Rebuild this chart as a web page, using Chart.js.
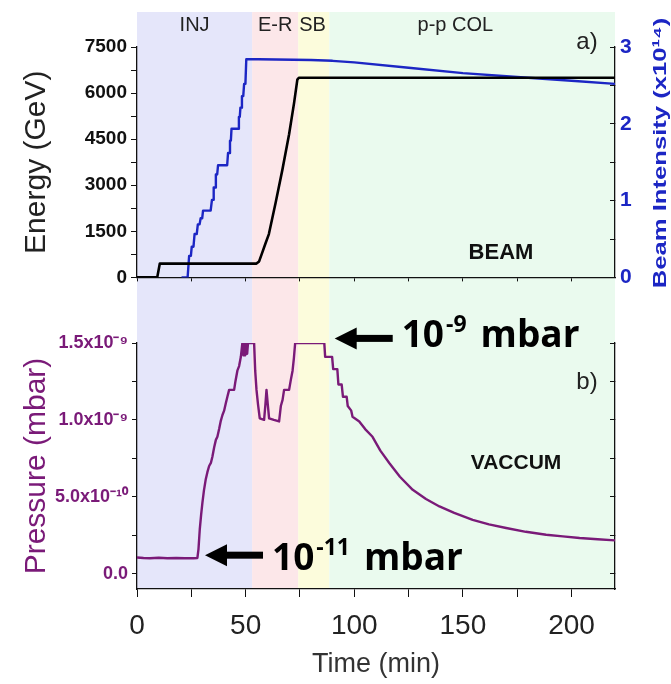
<!DOCTYPE html>
<html>
<head>
<meta charset="utf-8">
<title>Beam and vacuum during a fill</title>
<script src="https://cdn.jsdelivr.net/npm/chart.js@4.4.1/dist/chart.umd.min.js"></script>
<style>
  html, body { margin: 0; background: #fff; }
  #wrap { position: relative; width: 671px; height: 684px; overflow: hidden; }
  #wrap canvas { position: absolute; left: 0; }
  #beamChart { top: 0; }
  #vacChart { top: 300px; }
</style>
</head>
<body>
<div id="wrap">
  <canvas id="beamChart" width="671" height="300"></canvas>
  <canvas id="vacChart" width="671" height="384"></canvas>
</div>
<script>
// ---- values ----
const phaseNames = ['INJ', 'E-R', 'SB', 'p-p COL'];
const phaseStart = [0, 53, 74.2, 88.5];      // min
const phaseEnd = [53, 74.2, 88.5, 220];

// beam energy (GeV)
const energyTime = [0, 9.3, 10.5, 55, 56.2, 57.6, 59.0, 60.7, 63.8, 66.9, 70.0, 72.3, 73.8, 74.5, 220];
const energyGeV = [0, 0, 450, 450, 520, 800, 1080, 1410, 2430, 3500, 4660, 5680, 6440, 6500, 6500];

// beam intensity (x1e14 protons)
const beamTime = [20.5, 23.3, 24.0, 24.8, 25.2, 26.0, 26.5, 27.5, 28.0, 28.8, 29.3, 30.0, 30.4, 33.9,
  34.5, 35.0, 35.3, 35.9, 36.3, 36.9, 37.3, 41.5, 41.9, 42.4, 42.8, 43.2, 43.5, 46.5, 46.9, 47.3,
  47.6, 48.0, 48.3, 48.9, 49.3, 49.9, 50.3, 56, 80, 90, 100, 125, 150, 180, 200, 220];
const beamIntensity = [0, 0, 0.28, 0.28, 0.40, 0.40, 0.565, 0.565, 0.69, 0.69, 0.77, 0.77, 0.87, 0.87,
  1.01, 1.01, 1.17, 1.17, 1.34, 1.34, 1.46, 1.46, 1.62, 1.62, 1.78, 1.78, 1.935, 1.935, 2.09, 2.09,
  2.21, 2.21, 2.36, 2.36, 2.52, 2.52, 2.84, 2.84, 2.83, 2.82, 2.80, 2.73, 2.66, 2.60, 2.56, 2.52];

// pressure (x1e-10 mbar)
const pressureTime = [0, 3, 6, 10, 14, 18, 22, 26, 27.8, 28.3, 28.9, 29.5, 30.1, 30.8, 31.6, 32.4, 33.2,
  34.0, 34.7, 35.5, 36.3, 37.0, 37.8, 38.5, 39.3, 40.1, 40.9, 41.6, 42.4, 44.7, 45.3, 46.2, 47.0, 47.8,
  48.5, 49.0, 49.4, 49.8, 50.3, 50.7, 51.1, 53.9, 54.4, 55.0, 55.7, 56.5, 58.5, 59.1, 59.6, 60.2, 60.8,
  63.0, 65.4, 66.2, 67.0, 67.7, 70.0, 70.8, 71.6, 72.2, 72.8, 86.2, 86.6, 89.8, 90.3, 92.2, 92.7, 94.2,
  94.8, 96.5, 97.0, 98.6, 99.2, 102.3, 105, 108.4, 112, 116.1, 121, 126.9, 133, 139.2, 146, 154.5,
  162, 169.9, 179, 188.3, 196, 203.7, 212, 220];
const pressureE10 = [1.05, 1.02, 1.0, 1.03, 1.0, 1.02, 1.0, 1.0, 1.02, 1.6, 2.9, 3.8, 4.6, 5.4, 6.1, 6.6, 7.0,
  7.2, 7.6, 8.2, 8.7, 8.9, 9.4, 9.9, 10.3, 10.6, 11.1, 11.5, 11.95, 11.95, 12.5, 13.2, 13.5, 14.1,
  15, 14.2, 15, 14.2, 15, 14.3, 15, 15, 13.2, 11.95, 11.0, 10.1, 10.0, 11.0, 11.95, 11.0, 10.1,
  10.0, 9.9, 10.9, 11.3, 11.95, 11.95, 12.6, 13.2, 14.0, 15, 15, 14.1, 14.1, 13.3, 13.3, 12.3, 12.3,
  11.5, 11.5, 10.9, 10.6, 10.2, 9.9, 9.4, 8.9, 8.0, 7.2, 6.3, 5.45, 4.85, 4.37, 3.95, 3.5,
  3.2, 2.97, 2.72, 2.53, 2.42, 2.32, 2.24, 2.16];

// ticks
const timeTicks = [0, 25, 50, 75, 100, 125, 150, 175, 200];
const timeTickLabels = ['0', '', '50', '', '100', '', '150', '', '200'];
const energyTicks = [0, 750, 1500, 2250, 3000, 3750, 4500, 5250, 6000, 6750, 7500];
const energyTickLabels = ['0', '', '1500', '', '3000', '', '4500', '', '6000', '', '7500'];
const beamTicks = [0, 0.5, 1, 1.5, 2, 2.5, 3];
const beamTickLabels = ['0', '', '1', '', '2', '', '3'];
const pressureTicks = [0, 2.5, 5, 7.5, 10, 12.5, 15];
const pressureTickLabels = ['0.0', '', '5.0x10⁻¹⁰', '', '1.0x10⁻⁹', '', '1.5x10⁻⁹'];

// ---- look ----
const phaseColors = ['#e5e6fa', '#fce7e9', '#fcfcdc', '#eafaee'];
const phaseLabelTime = [26.5, 63.6, 80.8, 146.5];
const INK = '#111';
const BLUE = '#1c26c4';
const PURPLE = '#7a1a78';
const SANS = "'Liberation Sans', Arial, sans-serif";
const NOTE_FONT = "'Open Sans', 'Noto Sans', sans-serif";

Chart.defaults.font.family = SANS;
Chart.defaults.animation = false;
Chart.defaults.responsive = false;
Chart.defaults.devicePixelRatio = 1;
Chart.defaults.plugins.legend.display = false;
Chart.defaults.plugins.tooltip.enabled = false;

const xy = (xs, ys) => xs.map((x, i) => ({ x, y: ys[i] }));
const fixedTicks = vals => scale => { scale.ticks = vals.map(v => ({ value: v })); };
const labelsFrom = arr => (v, i) => arr[i];

// shaded phases, from `top` down to `bottom` (or to the chart area bottom)
function phaseBands(top, bottom) {
  return {
    id: 'phaseBands',
    beforeDraw(chart) {
      const { ctx, scales: { x }, chartArea } = chart;
      const y1 = bottom == null ? chartArea.bottom : bottom;
      ctx.save();
      phaseStart.forEach((t0, i) => {
        const x0 = x.getPixelForValue(t0);
        const x1 = x.getPixelForValue(phaseEnd[i]);
        ctx.fillStyle = phaseColors[i];
        ctx.fillRect(x0, top, x1 - x0, y1 - top);
      });
      ctx.restore();
    }
  };
}

function drawNote(chart, n) {
  const { ctx, scales } = chart;
  const tx = scales.x.getPixelForValue(n.t);
  const ty = scales.yP.getPixelForValue(n.p);
  ctx.fillStyle = '#000';
  ctx.beginPath();
  ctx.moveTo(tx, ty);
  ctx.lineTo(tx + 22, ty - 11);
  ctx.lineTo(tx + 22, ty + 11);
  ctx.closePath();
  ctx.fill();
  ctx.fillRect(tx + 20, ty - 3.5, 38, 7);
  const base = ty + n.dy;
  let x = tx + 67;
  ctx.textAlign = 'left';
  ctx.textBaseline = 'alphabetic';
  ctx.font = 'bold 37px ' + NOTE_FONT;
  ctx.fillText('10', x, base);
  x += ctx.measureText('10').width + 2;
  ctx.font = 'bold 23px ' + NOTE_FONT;
  ctx.fillText(n.exp, x, base - 15);
  x += ctx.measureText(n.exp).width + 14;
  ctx.font = 'bold 37px ' + NOTE_FONT;
  ctx.fillText('mbar', x, base);
}

function textLayer(items, notes) {
  return {
    id: 'textLayer',
    afterDraw(chart) {
      const ctx = chart.ctx;
      items.forEach(it => {
        ctx.save();
        ctx.font = it.font;
        ctx.fillStyle = it.color || '#222';
        ctx.textAlign = 'center';
        ctx.textBaseline = 'middle';
        ctx.translate(it.x, it.y);
        if (it.rotate) ctx.rotate(it.rotate);
        if (it.stretch) ctx.scale(it.stretch, 1);
        ctx.fillText(it.text, 0, 0);
        ctx.restore();
      });
      ctx.save();
      (notes || []).forEach(n => drawNote(chart, n));
      ctx.restore();
    }
  };
}

const axisLine = { color: INK, width: 1.3 };

// ---- a) beam ----
new Chart(document.getElementById('beamChart'), {
  type: 'line',
  data: {
    datasets: [
      { data: xy(energyTime, energyGeV), yAxisID: 'yE', borderColor: '#000', borderWidth: 2.6 },
      { data: xy(beamTime, beamIntensity), yAxisID: 'yB', borderColor: BLUE, borderWidth: 2.4 }
    ]
  },
  options: {
    layout: { padding: { top: 47 } },
    elements: { point: { radius: 0 }, line: { tension: 0, borderJoinStyle: 'round' } },
    scales: {
      x: {
        type: 'linear', min: 0, max: 220, position: 'bottom',
        afterBuildTicks: fixedTicks(timeTicks),
        afterFit: s => { s.height = 7; },
        ticks: { display: false },
        grid: { drawOnChartArea: false, tickLength: 4, color: INK },
        border: axisLine
      },
      yE: {
        type: 'linear', position: 'left', min: 0, max: 7500,
        afterBuildTicks: fixedTicks(energyTicks),
        afterFit: s => { s.width = 137; },
        ticks: { callback: labelsFrom(energyTickLabels), autoSkip: false, padding: 4, color: INK,
          font: { size: 19, weight: 'bold' } },
        grid: { drawOnChartArea: false, tickLength: 6, color: INK },
        border: axisLine,
        title: { display: true, text: 'Energy (GeV)', color: '#222', font: { size: 30 }, padding: { top: 19 } }
      },
      yB: {
        type: 'linear', position: 'right', min: 0, max: 3,
        afterBuildTicks: fixedTicks(beamTicks),
        afterFit: s => { s.width = 56; },
        ticks: { callback: labelsFrom(beamTickLabels), autoSkip: false, padding: 10, color: BLUE,
          font: { size: 21, weight: 'bold' } },
        grid: { drawOnChartArea: false, tickLength: -5, color: INK },
        border: axisLine
      }
    }
  },
  plugins: [
    phaseBands(12, 300),
    textLayer([
      ...phaseNames.map((name, i) => ({ text: name, t: phaseLabelTime[i], y: 25, font: '20px ' + SANS })),
      { text: 'a)', x: 587, y: 42, font: '24px ' + SANS },
      { text: 'BEAM', x: 501, y: 253, font: 'bold 22px ' + SANS, color: '#111' },
      { text: 'Beam Intensity (x10¹⁴)', x: 661, y: 153, rotate: -Math.PI / 2, stretch: 1.35,
        font: 'bold 19px ' + SANS, color: BLUE }
    ].map(it => it.t == null ? it : Object.assign(it, { x: 137 + it.t * 478 / 220 })))
  ]
});

// ---- b) vacuum ----
new Chart(document.getElementById('vacChart'), {
  type: 'line',
  data: {
    datasets: [
      { data: xy(pressureTime, pressureE10), yAxisID: 'yP', borderColor: PURPLE, borderWidth: 2.4 }
    ]
  },
  options: {
    layout: { padding: { top: 43 } },
    elements: { point: { radius: 0 }, line: { tension: 0, borderJoinStyle: 'round' } },
    scales: {
      x: {
        type: 'linear', min: 0, max: 220, position: 'bottom',
        afterBuildTicks: fixedTicks(timeTicks),
        afterFit: s => { s.height = 95; },
        ticks: { callback: labelsFrom(timeTickLabels), autoSkip: false, maxRotation: 0, padding: 12,
          color: '#222', font: { size: 28 } },
        grid: { drawOnChartArea: false, tickLength: 8, color: INK },
        border: axisLine,
        title: { display: true, text: 'Time (min)', color: '#333', font: { size: 27 }, padding: { bottom: 3 } }
      },
      yP: {
        type: 'linear', position: 'left', min: -1, max: 15,
        afterBuildTicks: fixedTicks(pressureTicks),
        afterFit: s => { s.width = 137; },
        ticks: { callback: labelsFrom(pressureTickLabels), autoSkip: false, padding: 4, color: PURPLE,
          font: { size: 18, weight: 'bold' } },
        grid: { drawOnChartArea: false, tickLength: 5, color: INK },
        border: axisLine,
        title: { display: true, text: 'Pressure (mbar)', color: PURPLE, font: { size: 30 }, padding: { top: 19 } }
      },
      yR: {
        type: 'linear', position: 'right', min: -1, max: 15,
        afterBuildTicks: fixedTicks(pressureTicks),
        afterFit: s => { s.width = 56; },
        ticks: { display: false },
        grid: { drawOnChartArea: false, tickLength: -5, color: INK },
        border: axisLine
      }
    }
  },
  plugins: [
    phaseBands(0, null),
    textLayer([
      { text: 'b)', x: 587, y: 82, font: '24px ' + SANS },
      { text: 'VACCUM', x: 516, y: 163, font: 'bold 21px ' + SANS, color: '#111' }
    ], [
      { t: 91, p: 15.3, dy: 9, exp: '-9' },
      { t: 31.3, p: 1.2, dy: 15, exp: '-11' }
    ])
  ]
});
</script>
</body>
</html>
